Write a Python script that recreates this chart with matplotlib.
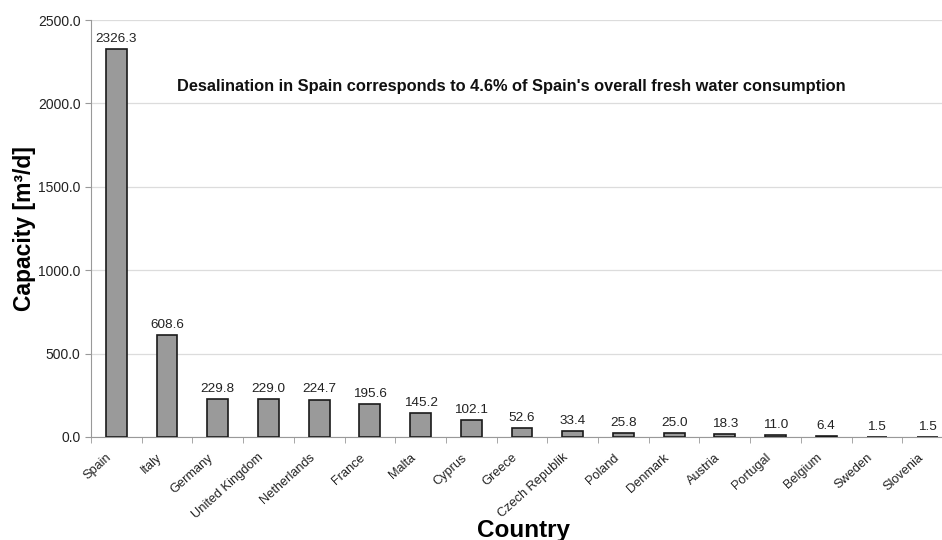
import matplotlib.pyplot as plt
import numpy as np

plt.rcParams['font.family'] = ['Liberation Sans', 'DejaVu Sans']

countries = ['Spain', 'Italy', 'Germany', 'United Kingdom', 'Netherlands', 'France',
             'Malta', 'Cyprus', 'Greece', 'Czech Republik', 'Poland', 'Denmark',
             'Austria', 'Portugal', 'Belgium', 'Sweden', 'Slovenia']
capacity = [2326.3, 608.6, 229.8, 229.0, 224.7, 195.6, 145.2, 102.1, 52.6,
            33.4, 25.8, 25.0, 18.3, 11.0, 6.4, 1.5, 1.5]
yticks = [0, 500, 1000, 1500, 2000, 2500]

fig = plt.figure(figsize=(9.42, 5.4), dpi=100)
ax = fig.add_axes([91 / 942, 103 / 540, 862 / 942, 417 / 540])

x = np.arange(len(countries))
ax.bar(x, capacity, width=0.41, color='#9a9a9a', edgecolor='#1a1a1a', linewidth=1.2, zorder=3)

for xi, v in zip(x, capacity):
    ax.annotate(f'{v:.1f}', (xi, v), xytext=(0, 3), textcoords='offset points',
                ha='center', va='bottom', fontsize=9.7, color='#222222')

ax.set_xlim(-0.5, len(countries) - 0.5)
ax.set_ylim(0, 2500)
ax.set_yticks(yticks)
ax.set_yticklabels([f'{t:.1f}' for t in yticks], fontsize=10, color='#222222')
ax.yaxis.grid(True, color='#dcdcdc', linewidth=0.9, zorder=0)

# category labels drawn by hand so they sit a bit left of the bars, like the original
ax.set_xticks([])
for xi, name in zip(x, countries):
    ax.annotate(name, (xi, 0), xycoords=('data', 'axes fraction'),
                xytext=(-7.5, -10.5), textcoords='offset points',
                rotation=42, ha='right', va='top', rotation_mode='anchor',
                fontsize=9.2, color='#222222', annotation_clip=False)
ax.set_xticks(np.arange(len(countries) + 1) - 0.5, minor=True)
ax.tick_params(axis='x', which='minor', length=4, color='#999999', direction='out')
ax.tick_params(axis='y', length=4, color='#999999', direction='out')

for s in ['top', 'right']:
    ax.spines[s].set_visible(False)
ax.spines['left'].set_color('#999999')
ax.spines['bottom'].set_color('#999999')

ax.set_ylabel('Capacity [m³/d]', fontsize=16.5, fontweight='bold', labelpad=1.5)
fig.text(524 / 942, 3 / 540, 'Country', fontsize=17.5, fontweight='bold',
         ha='center', va='baseline')

ax.text((177 - 91) / 862, 0.84, "Desalination in Spain corresponds to 4.6% of Spain's overall fresh water consumption",
        transform=ax.transAxes, fontsize=11.8, fontweight='bold', color='#111111',
        ha='left', va='center')

fig.savefig('out.png', dpi=100)
